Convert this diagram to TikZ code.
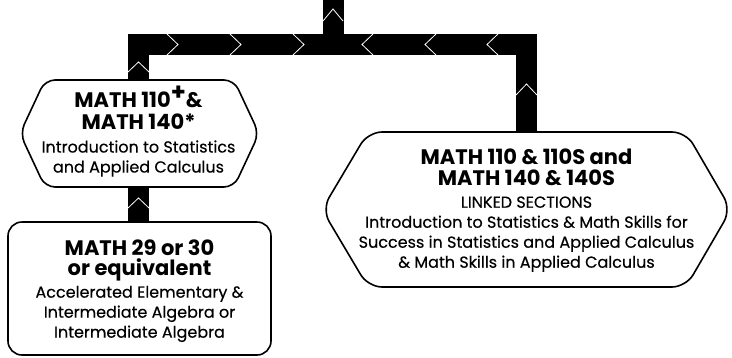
\documentclass[tikz,border=0pt]{standalone}
\usepackage{fontspec}
\setmainfont{Poppins}
\newfontfamily\bodyfam{Poppins}[FakeBold=0.35]
\begin{document}
\begin{tikzpicture}[x=1pt,y=-1pt,
  bar/.style={line width=21pt,line join=miter,black},
  chev/.style={white,line width=0.8pt},
  outline/.style={draw=black,fill=white,line width=1.6pt},
  txt/.style={align=center,inner sep=0pt,text=black,font=\bodyf},
]
\newcommand\titlef{\fontsize{21}{20}\selectfont\rmfamily\bfseries}
\newcommand\bodyf{\fontsize{16}{20}\selectfont\bodyfam}
\useasboundingbox (0,0) rectangle (732,357);
\fill[white] (0,0) rectangle (732,357);

% named anchors for the connectors
\coordinate (src) at (333,0);
\coordinate (busy) at (0,44.5);
\node[minimum width=236pt,minimum height=107pt,inner sep=0pt] (hexL) at (138.5,133.5) {};
\node[minimum width=406pt,minimum height=155pt,inner sep=0pt] (hexR) at (526.5,209.5) {};
\node[minimum width=263pt,minimum height=133pt,inner sep=0pt] (boxB) at (139.5,288.5) {};

% connectors
\draw[bar] (src) -- (src |- busy);
\draw[bar] (hexL.north) -- (hexL.north |- busy) -- (hexR.north |- busy) -- (hexR.north);
\draw[bar] (boxB.north -| hexL.south) -- (hexL.south);

% chevrons
\draw[chev] (323,21) -- (333,9) -- (343,21);
\draw[chev] (128,72) -- (138.5,62) -- (149,72);
\draw[chev] (516,95) -- (526.5,84) -- (537,95);
\draw[chev] (128,208) -- (138.5,198) -- (149,208);
\foreach \x in {167,230,293} \draw[chev] (\x,34) -- (\x+11,44.5) -- (\x,55);
\foreach \x in {373,436,498} \draw[chev] (\x,34) -- (\x-11,44.5) -- (\x,55);

% shapes
\draw[outline,rounded corners=10pt] (45,80) -- (234,80) -- (259,133.5) -- (234,187) -- (45,187) -- (20,133.5) -- cycle;
\draw[outline,rounded corners=14pt] (368,132) -- (686,132) -- (731,209.5) -- (686,287) -- (368,287) -- (322,209.5) -- cycle;
\draw[outline,rounded corners=14pt] (8,222) rectangle (271,355);

% texts
\node[txt] (tL) at ([yshift=2pt]hexL) {\titlef MATH 110\raisebox{0.32em}{\fontsize{24}{20}\selectfont+}\&\\[2pt]
  \titlef MATH 140*\\[3pt]
  Introduction to Statistics\\
  and Applied Calculus};
\node[txt] (tR) at ([yshift=-1pt]hexR) {\titlef MATH 110 \& 110S and\\[1pt]
  \titlef MATH 140 \& 140S\\[2pt]
  LINKED SECTIONS\\
  Introduction to Statistics \& Math Skills for\\
  Success in Statistics and Applied Calculus\\
  \& Math Skills in Applied Calculus};
\node[txt] (tB) at ([yshift=-2.5pt]boxB) {\titlef MATH 29 or 30\\
  \titlef or equivalent\\[2pt]
  Accelerated Elementary \&\\
  Intermediate Algebra or\\
  Intermediate Algebra};
\end{tikzpicture}
\end{document}
